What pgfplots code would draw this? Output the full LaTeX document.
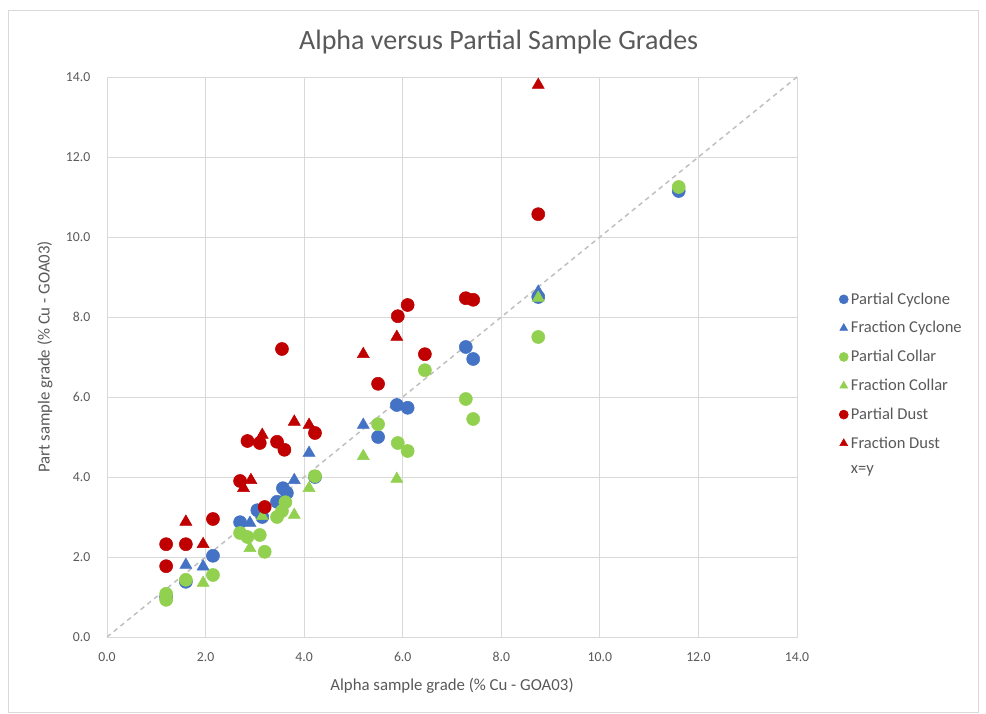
\documentclass[border=0pt]{standalone}
\usepackage{fontspec}
\setmainfont{Carlito}
\usepackage{pgfplots}
\pgfplotsset{compat=1.18}
\definecolor{cblue}{HTML}{4472C4}
\definecolor{cgreen}{HTML}{92D050}
\definecolor{cred}{HTML}{C00000}
\definecolor{txtgray}{HTML}{595959}
\definecolor{gridgray}{HTML}{D9D9D9}
\definecolor{linegray}{HTML}{BFBFBF}
\begin{document}
\begin{tikzpicture}[x=1pt,y=1pt]
\path (0,0) rectangle (739.5,535.5);
\draw[gridgray] (6,1) rectangle (733.5,528);
\node[txtgray, font=\fontsize{21}{24}\selectfont] at (374,504) {Alpha versus Partial Sample Grades};
\begin{axis}[
  at={(80.25pt,57.75pt)}, anchor=south west,
  scale only axis, width=517.5pt, height=420pt,
  xmin=0, xmax=14, ymin=0, ymax=14,
  xtick={0,2,...,14}, ytick={0,2,...,14},
  grid=major, grid style={gridgray, line width=0.6pt},
  axis line style={gridgray, line width=0.6pt},
  major tick length=0pt,
  tick label style={text=txtgray, font=\fontsize{10.3}{12}\selectfont},
  xticklabel style={yshift=-8pt},
  yticklabel style={xshift=-9pt},
  /pgf/number format/.cd, fixed, fixed zerofill, precision=1, assume math mode=true,
  /pgfplots/.cd,
  xlabel={Alpha sample grade (\% Cu - GOA03)},
  ylabel={Part sample grade (\% Cu - GOA03)},
  label style={text=txtgray, font=\fontsize{12.6}{15}\selectfont},
  xlabel style={at={(axis description cs:0.5,-0.0875)}, anchor=center},
  ylabel style={at={(axis description cs:-0.0899,0.5)}, anchor=center},
  legend style={draw=none, fill=none, text=txtgray, font=\fontsize{12.4}{15}\selectfont,
    at={(axis description cs:1.055,0.625)}, anchor=north west, row sep=7.5pt,
    /tikz/every odd column/.append style={column sep=0pt}},
  legend cell align=left,
  legend image code/.code={\draw[#1, mark size=3.4pt] plot coordinates {(0pt,0pt)};},
]
\addplot[only marks, mark=*, mark size=4.9pt, color=cblue, mark options={fill=cblue, draw=cblue}] coordinates {
(1.2,1.0) (1.6,1.38) (2.15,2.03) (2.7,2.87) (3.05,3.17) (3.15,3.0) (3.45,3.38) (3.57,3.72) (3.65,3.6) (4.22,4.0) (5.5,5.0) (5.88,5.8) (6.1,5.73) (7.28,7.25) (7.43,6.95) (8.75,8.5) (11.6,11.15)
};
\addlegendentry{Partial Cyclone}
\addplot[only marks, mark=triangle*, mark size=5.2pt, color=cblue, mark options={fill=cblue, draw=cblue}] coordinates {
(1.6,1.8) (1.95,1.76) (2.9,2.85) (3.15,3.05) (3.8,3.92) (4.1,4.6) (5.2,5.3) (5.88,5.8) (8.75,8.63)
};
\addlegendentry{Fraction Cyclone}
\addplot[only marks, mark=*, mark size=4.9pt, color=cgreen, mark options={fill=cgreen, draw=cgreen}] coordinates {
(1.2,1.08) (1.2,0.93) (1.6,1.43) (2.15,1.55) (2.7,2.6) (2.85,2.5) (3.1,2.55) (3.2,2.13) (3.45,3.0) (3.55,3.15) (3.62,3.37) (4.22,4.02) (5.5,5.32) (5.9,4.85) (6.1,4.65) (6.45,6.67) (7.28,5.95) (7.43,5.45) (8.75,7.5) (11.6,11.25)
};
\addlegendentry{Partial Collar}
\addplot[only marks, mark=triangle*, mark size=5.2pt, color=cgreen, mark options={fill=cgreen, draw=cgreen}] coordinates {
(1.95,1.35) (2.9,2.22) (3.15,3.02) (3.8,3.05) (4.1,3.72) (5.2,4.52) (5.88,3.95) (8.75,8.48)
};
\addlegendentry{Fraction Collar}
\addplot[only marks, mark=*, mark size=4.9pt, color=cred, mark options={fill=cred, draw=cred}] coordinates {
(1.2,2.32) (1.2,1.77) (1.6,2.32) (2.15,2.95) (2.7,3.9) (2.85,4.9) (3.1,4.85) (3.2,3.25) (3.45,4.88) (3.6,4.68) (3.55,7.2) (4.22,5.1) (5.5,6.33) (5.9,8.02) (6.1,8.3) (6.45,7.07) (7.28,8.47) (7.43,8.43) (8.75,10.57)
};
\addlegendentry{Partial Dust}
\addplot[only marks, mark=triangle*, mark size=5.2pt, color=cred, mark options={fill=cred, draw=cred}] coordinates {
(1.6,2.88) (1.95,2.32) (2.77,3.72) (2.92,3.92) (3.15,5.05) (3.8,5.38) (4.1,5.3) (5.2,7.07) (5.88,7.5) (8.75,13.8)
};
\addlegendentry{Fraction Dust}
\addplot[color=linegray, line width=1.1pt, dash pattern=on 3.5pt off 3pt, legend image code/.code={}] coordinates {(0,0) (14,14)};
\addlegendentry{x=y}
\end{axis}
\end{tikzpicture}
\end{document}
